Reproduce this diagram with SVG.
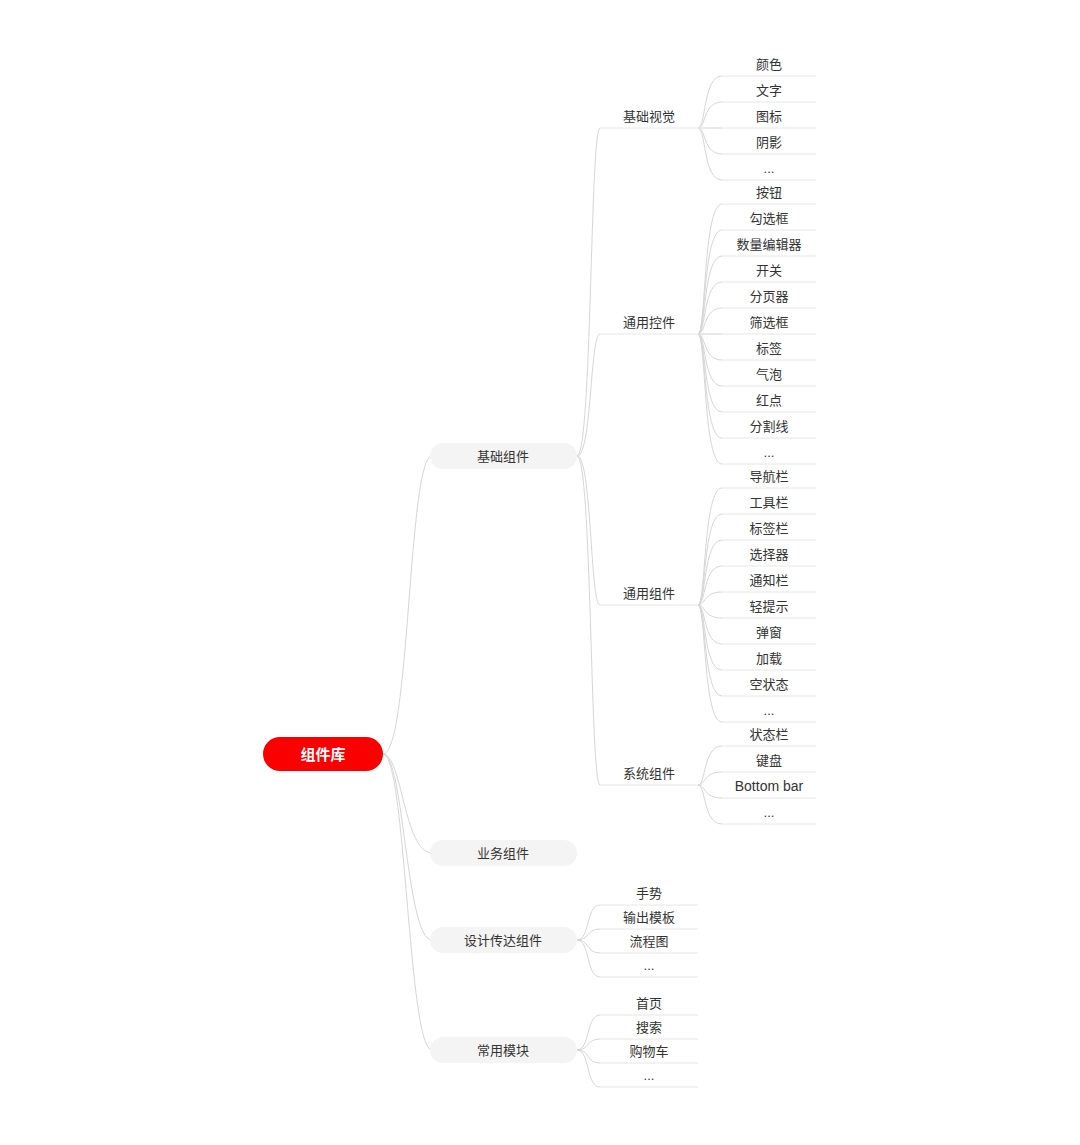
<svg xmlns="http://www.w3.org/2000/svg" width="1080" height="1145" viewBox="0 0 1080 1145">
<style>
text{font-family:"Liberation Sans","Noto Sans CJK SC",sans-serif;font-size:13px;fill:#333;text-anchor:middle;dominant-baseline:central}
.c{fill:none;stroke:#d6d6d6;stroke-width:1}
.u{fill:none;stroke:#e6e6e6;stroke-width:1}
.pill{fill:#f5f4f4}
.root{fill:#fb0000}
.rt{fill:#fff;font-size:15px;font-weight:bold}
.lat{font-size:14px}
</style>
<rect width="1080" height="1145" fill="#fff"/>
<g id="connectors">
<path class="c" d="M383 754C410 754 408 456 432 456"/>
<path class="c" d="M383 754C402 754 404 853 432 853"/>
<path class="c" d="M383 754C404 754 406 940 432 940"/>
<path class="c" d="M383 754C406 754 408 1050 432 1050"/>
<path class="c" d="M577 456C592 456 590 128 600 128"/>
<path class="c" d="M577 456C592 456 590 334 600 334"/>
<path class="c" d="M577 456C592 456 590 605 600 605"/>
<path class="c" d="M577 456C592 456 590 785 600 785"/>
<path class="c" d="M577 940C590 940 586 905 600 905"/>
<path class="c" d="M577 940C590 940 586 929 600 929"/>
<path class="c" d="M577 940C590 940 586 953 600 953"/>
<path class="c" d="M577 940C590 940 586 977 600 977"/>
<path class="c" d="M577 1050C590 1050 586 1015 600 1015"/>
<path class="c" d="M577 1050C590 1050 586 1039 600 1039"/>
<path class="c" d="M577 1050C590 1050 586 1063 600 1063"/>
<path class="c" d="M577 1050C590 1050 586 1087 600 1087"/>
<path class="c" d="M698 128C706 128 703 76 722 76"/>
<path class="c" d="M698 128C706 128 703 102 722 102"/>
<path class="c" d="M698 128L722 128"/>
<path class="c" d="M698 128C706 128 703 154 722 154"/>
<path class="c" d="M698 128C706 128 703 180 722 180"/>
<path class="c" d="M698 334C706 334 703 204 722 204"/>
<path class="c" d="M698 334C706 334 703 230 722 230"/>
<path class="c" d="M698 334C706 334 703 256 722 256"/>
<path class="c" d="M698 334C706 334 703 282 722 282"/>
<path class="c" d="M698 334C706 334 703 308 722 308"/>
<path class="c" d="M698 334L722 334"/>
<path class="c" d="M698 334C706 334 703 360 722 360"/>
<path class="c" d="M698 334C706 334 703 386 722 386"/>
<path class="c" d="M698 334C706 334 703 412 722 412"/>
<path class="c" d="M698 334C706 334 703 438 722 438"/>
<path class="c" d="M698 334C706 334 703 464 722 464"/>
<path class="c" d="M698 605C706 605 703 488 722 488"/>
<path class="c" d="M698 605C706 605 703 514 722 514"/>
<path class="c" d="M698 605C706 605 703 540 722 540"/>
<path class="c" d="M698 605C706 605 703 566 722 566"/>
<path class="c" d="M698 605C706 605 703 592 722 592"/>
<path class="c" d="M698 605C706 605 703 618 722 618"/>
<path class="c" d="M698 605C706 605 703 644 722 644"/>
<path class="c" d="M698 605C706 605 703 670 722 670"/>
<path class="c" d="M698 605C706 605 703 696 722 696"/>
<path class="c" d="M698 605C706 605 703 722 722 722"/>
<path class="c" d="M698 785C706 785 703 746 722 746"/>
<path class="c" d="M698 785C706 785 703 772 722 772"/>
<path class="c" d="M698 785C706 785 703 798 722 798"/>
<path class="c" d="M698 785C706 785 703 824 722 824"/>
</g>
<g id="root"><rect class="root" x="263" y="737" width="120" height="34" rx="17"/><text class="rt" x="323" y="754">组件库</text></g>
<g id="n-jichu"><rect class="pill" x="430" y="443" width="147" height="26" rx="13"/><text x="503" y="456">基础组件</text></g>
<g id="n-yewu"><rect class="pill" x="430" y="840" width="147" height="26" rx="13"/><text x="503" y="853">业务组件</text></g>
<g id="n-sheji"><rect class="pill" x="430" y="927" width="147" height="26" rx="13"/><text x="503" y="940">设计传达组件</text></g>
<g id="n-changyong"><rect class="pill" x="430" y="1037" width="147" height="26" rx="13"/><text x="503" y="1050">常用模块</text></g>
<g id="n-jcsj"><path class="u" d="M600 128H698"/><text x="649" y="116">基础视觉</text></g>
<g id="n-tykj"><path class="u" d="M600 334H698"/><text x="649" y="322">通用控件</text></g>
<g id="n-tyzj"><path class="u" d="M600 605H698"/><text x="649" y="593">通用组件</text></g>
<g id="n-xtzj"><path class="u" d="M600 785H698"/><text x="649" y="773">系统组件</text></g>
<g id="n-shoushi"><path class="u" d="M600 905H698"/><text x="649" y="893">手势</text></g>
<g id="n-shuchu"><path class="u" d="M600 929H698"/><text x="649" y="917">输出模板</text></g>
<g id="n-liucheng"><path class="u" d="M600 953H698"/><text x="649" y="941">流程图</text></g>
<g id="n-sj-more"><path class="u" d="M600 977H698"/><text x="649" y="965">...</text></g>
<g id="n-shouye"><path class="u" d="M600 1015H698"/><text x="649" y="1003">首页</text></g>
<g id="n-sousuo"><path class="u" d="M600 1039H698"/><text x="649" y="1027">搜索</text></g>
<g id="n-gouwu"><path class="u" d="M600 1063H698"/><text x="649" y="1051">购物车</text></g>
<g id="n-cy-more"><path class="u" d="M600 1087H698"/><text x="649" y="1075">...</text></g>
<g id="leaves-jcsj">
<g id="l-yanse"><path class="u" d="M722 76H816"/><text x="769" y="64">颜色</text></g>
<g id="l-wenzi"><path class="u" d="M722 102H816"/><text x="769" y="90">文字</text></g>
<g id="l-tubiao"><path class="u" d="M698 128H816"/><text x="769" y="116">图标</text></g>
<g id="l-yinying"><path class="u" d="M722 154H816"/><text x="769" y="142">阴影</text></g>
<g id="l-jcsj-more"><path class="u" d="M722 180H816"/><text x="769" y="168">...</text></g>
</g>
<g id="leaves-tykj">
<g id="l-anniu"><path class="u" d="M722 204H816"/><text x="769" y="192">按钮</text></g>
<g id="l-gouxuan"><path class="u" d="M722 230H816"/><text x="769" y="218">勾选框</text></g>
<g id="l-shuliang"><path class="u" d="M722 256H816"/><text x="769" y="244">数量编辑器</text></g>
<g id="l-kaiguan"><path class="u" d="M722 282H816"/><text x="769" y="270">开关</text></g>
<g id="l-fenye"><path class="u" d="M722 308H816"/><text x="769" y="296">分页器</text></g>
<g id="l-shaixuan"><path class="u" d="M698 334H816"/><text x="769" y="322">筛选框</text></g>
<g id="l-biaoqian"><path class="u" d="M722 360H816"/><text x="769" y="348">标签</text></g>
<g id="l-qipao"><path class="u" d="M722 386H816"/><text x="769" y="374">气泡</text></g>
<g id="l-hongdian"><path class="u" d="M722 412H816"/><text x="769" y="400">红点</text></g>
<g id="l-fenge"><path class="u" d="M722 438H816"/><text x="769" y="426">分割线</text></g>
<g id="l-tykj-more"><path class="u" d="M722 464H816"/><text x="769" y="452">...</text></g>
</g>
<g id="leaves-tyzj">
<g id="l-daohang"><path class="u" d="M722 488H816"/><text x="769" y="476">导航栏</text></g>
<g id="l-gongju"><path class="u" d="M722 514H816"/><text x="769" y="502">工具栏</text></g>
<g id="l-biaoqianlan"><path class="u" d="M722 540H816"/><text x="769" y="528">标签栏</text></g>
<g id="l-xuanze"><path class="u" d="M722 566H816"/><text x="769" y="554">选择器</text></g>
<g id="l-tongzhi"><path class="u" d="M722 592H816"/><text x="769" y="580">通知栏</text></g>
<g id="l-qingtishi"><path class="u" d="M722 618H816"/><text x="769" y="606">轻提示</text></g>
<g id="l-tanchuang"><path class="u" d="M722 644H816"/><text x="769" y="632">弹窗</text></g>
<g id="l-jiazai"><path class="u" d="M722 670H816"/><text x="769" y="658">加载</text></g>
<g id="l-kong"><path class="u" d="M722 696H816"/><text x="769" y="684">空状态</text></g>
<g id="l-tyzj-more"><path class="u" d="M722 722H816"/><text x="769" y="710">...</text></g>
</g>
<g id="leaves-xtzj">
<g id="l-zhuangtai"><path class="u" d="M722 746H816"/><text x="769" y="734">状态栏</text></g>
<g id="l-jianpan"><path class="u" d="M722 772H816"/><text x="769" y="760">键盘</text></g>
<g id="l-bottom"><path class="u" d="M722 798H816"/><text class="lat" x="769" y="786">Bottom bar</text></g>
<g id="l-xtzj-more"><path class="u" d="M722 824H816"/><text x="769" y="812">...</text></g>
</g>
</svg>
